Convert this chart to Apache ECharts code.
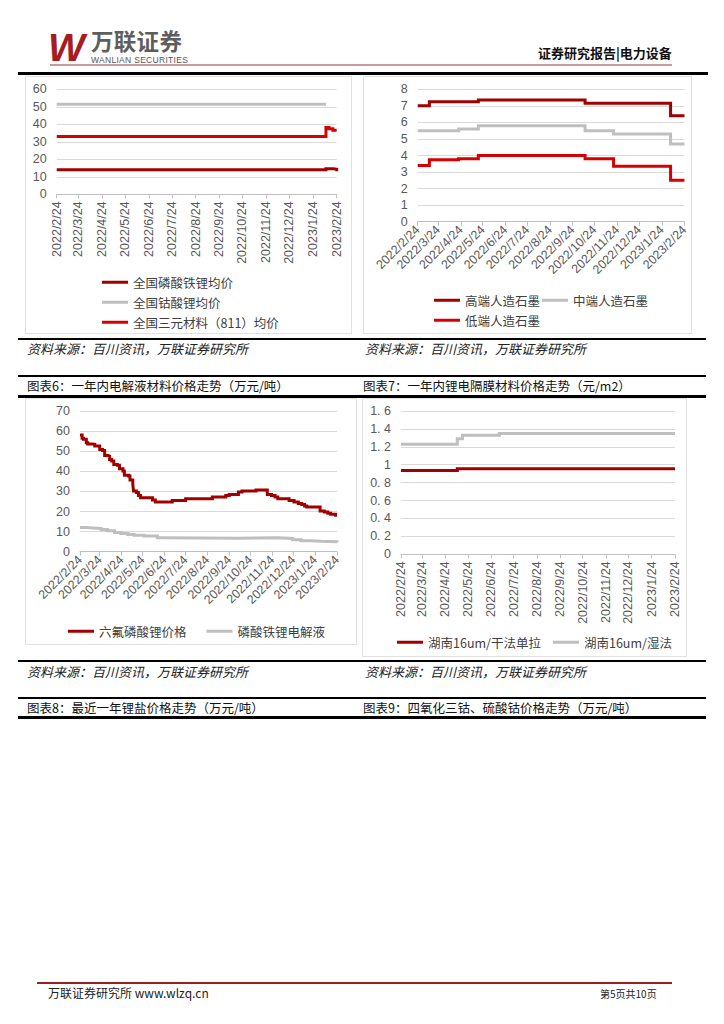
<!DOCTYPE html>
<html><head><meta charset="utf-8">
<script src="https://cdn.jsdelivr.net/npm/echarts@6/dist/echarts.min.js"></script>
<style>
body{margin:0;width:724px;height:1024px;position:relative;background:#fff;font-family:"Noto Sans CJK SC",sans-serif;overflow:hidden}
.abs{position:absolute;white-space:nowrap}
.hl{position:absolute;background:#000}
.panel{position:absolute;border:1px solid #e2e2e2;box-sizing:border-box}
.src{position:absolute;font-size:13px;font-style:italic;color:#222;line-height:16px;white-space:nowrap}
.ttl{position:absolute;font-size:12.5px;color:#111;line-height:16px;white-space:nowrap}
</style></head>
<body>
<div class="abs" style="left:48px;top:26px;font:italic bold 39px 'Liberation Sans';color:#a51d22;letter-spacing:-2px">W</div>
<div class="abs" style="left:91px;top:24px;font-size:22.5px;font-weight:bold;color:#5e5e5e;line-height:32px;letter-spacing:0.3px">万联证券</div>
<div class="abs" style="left:91px;top:56px;font:8.5px 'Liberation Sans';color:#555;letter-spacing:0.3px;line-height:8px">WANLIAN SECURITIES</div>
<div class="abs" style="left:538px;top:45px;font-size:13px;font-weight:bold;color:#111;line-height:16px">证券研究报告|电力设备</div>
<div class="hl" style="left:50px;top:64px;width:622px;height:2px;background:#c99c9c"></div>
<div class="hl" style="left:18px;top:72px;width:690px;height:3px"></div>

<div class="panel" id="c1" style="left:25px;top:76px;width:327px;height:258px"></div>
<div class="panel" id="c2" style="left:363px;top:76px;width:329px;height:258px"></div>

<div class="hl" style="left:18px;top:338px;width:688px;height:1.5px"></div>
<div class="src" style="left:27px;top:341px">资料来源：百川资讯，万联证券研究所</div>
<div class="src" style="left:365px;top:341px">资料来源：百川资讯，万联证券研究所</div>
<div class="hl" style="left:18px;top:375px;width:688px;height:1.5px"></div>
<div class="ttl" style="left:27px;top:378px">图表6：一年内电解液材料价格走势（万元/吨）</div>
<div class="ttl" style="left:363px;top:378px">图表7：一年内锂电隔膜材料价格走势（元/m2）</div>
<div class="hl" style="left:18px;top:395px;width:688px;height:2.5px"></div>

<div class="panel" id="c3" style="left:25px;top:398px;width:332px;height:247px"></div>
<div class="panel" id="c4" style="left:362px;top:398px;width:325px;height:259px"></div>

<div class="hl" style="left:18px;top:660px;width:688px;height:1.5px"></div>
<div class="src" style="left:27px;top:664px">资料来源：百川资讯，万联证券研究所</div>
<div class="src" style="left:365px;top:664px">资料来源：百川资讯，万联证券研究所</div>
<div class="hl" style="left:18px;top:697px;width:688px;height:1.5px"></div>
<div class="ttl" style="left:27px;top:700px">图表8：最近一年锂盐价格走势（万元/吨）</div>
<div class="ttl" style="left:363px;top:700px">图表9：四氧化三钴、硫酸钴价格走势（万元/吨）</div>
<div class="hl" style="left:18px;top:716px;width:688px;height:2.5px"></div>

<div class="hl" style="left:37px;top:982px;width:635px;height:2px;background:#9c1f1f"></div>
<div class="abs" style="left:48px;top:985px;font-size:12px;color:#222;line-height:16px">万联证券研究所 www.wlzq.cn</div>
<div class="abs" style="left:600px;top:987px;font-size:10px;color:#222;line-height:13px">第5页共10页</div>

<script>
// ---- axis categories / tick labels ----
const tickLabels = ['2022/2/24','2022/3/24','2022/4/24','2022/5/24','2022/6/24','2022/7/24','2022/8/24','2022/9/24','2022/10/24','2022/11/24','2022/12/24','2023/1/24','2023/2/24'];
const dates = [];
for (let i = 0; i <= 365; i++) { const d = new Date(2022, 1, 24 + i); dates.push(d.getFullYear() + '/' + (d.getMonth() + 1) + '/' + d.getDate()); }
const tickSet = new Set(tickLabels);

// ---- chart 1: cathode materials ----
const lfpAvg = [['2022/2/24',14],['2023/2/10',14.6],['2023/2/20',14.3],['2023/2/24',13.2]];
const lcoAvg = [['2022/2/24',51.5],['2023/2/10',51.5]];
const ncm811Avg = [['2022/2/24',33],['2023/2/10',38.2],['2023/2/14',37.5],['2023/2/19',36.6],['2023/2/24',36.6]];

// ---- chart 2: artificial graphite ----
const graphHigh = [['2022/2/24',7.0],['2022/3/12',7.25],['2022/5/18',7.35],['2022/10/11',7.15],['2023/2/5',6.4],['2023/2/24',6.4]];
const graphMid = [['2022/2/24',5.5],['2022/4/21',5.6],['2022/5/18',5.8],['2022/10/11',5.5],['2022/11/19',5.3],['2023/2/5',4.7],['2023/2/24',4.7]];
const graphLow = [['2022/2/24',3.4],['2022/3/12',3.75],['2022/4/21',3.8],['2022/5/18',4.0],['2022/10/11',3.8],['2022/11/19',3.35],['2023/2/5',2.5],['2023/2/24',2.5]];

// ---- chart 3: electrolyte ----
const lipf6 = [['2022/2/24',58.0],['2022/2/27',56.4],['2022/3/1',55.9],['2022/3/5',54.2],['2022/3/7',53.6],['2022/3/14',53.4],['2022/3/17',52.6],['2022/3/24',50.9],['2022/3/28',50.4],['2022/3/31',47.9],['2022/4/5',47.6],['2022/4/7',45.9],['2022/4/10',45.1],['2022/4/13',43.4],['2022/4/18',43.0],['2022/4/21',41.3],['2022/4/26',40.1],['2022/4/28',38.0],['2022/5/4',37.6],['2022/5/6',35.7],['2022/5/10',33.5],['2022/5/11',30.2],['2022/5/15',29.4],['2022/5/18',28.0],['2022/5/21',26.9],['2022/6/7',25.7],['2022/6/11',24.7],['2022/7/5',25.5],['2022/7/24',26.4],['2022/8/31',27.2],['2022/9/19',28.0],['2022/9/24',28.4],['2022/10/7',29.7],['2022/10/12',30.2],['2022/11/1',30.7],['2022/11/17',28.5],['2022/11/23',28.0],['2022/11/28',27.2],['2022/12/2',26.4],['2022/12/18',25.5],['2022/12/25',24.7],['2022/12/31',24.0],['2023/1/5',23.5],['2023/1/9',22.7],['2023/1/12',22.2],['2023/1/31',20.2],['2023/2/6',19.7],['2023/2/11',19.1],['2023/2/15',18.6],['2023/2/22',18.1],['2023/2/24',17.8]];
const lfpElectrolyte = [['2022/2/24',12.0],['2022/3/5',11.8],['2022/3/14',11.6],['2022/3/26',11.0],['2022/4/4',10.4],['2022/4/14',9.6],['2022/4/23',9.1],['2022/5/3',8.6],['2022/5/12',8.2],['2022/5/26',7.8],['2022/6/14',7.0],['2022/6/19',6.7],['2022/10/6',6.9],['2022/12/2',6.6],['2022/12/23',5.9],['2023/1/4',5.5],['2023/1/18',5.2],['2023/2/1',5.0],['2023/2/24',4.6]];

// ---- chart 4: separator ----
const dryFilm = [['2022/2/24',0.935],['2022/5/10',0.955],['2023/2/24',0.955]];
const wetFilm = [['2022/2/24',1.23],['2022/5/10',1.29],['2022/5/17',1.33],['2022/7/5',1.35],['2023/2/24',1.35]];

const DARK = '#a00000', RED = '#d60000', GREY = '#bfbfbf';
const FONT = "'Liberation Sans', 'Noto Sans CJK SC', sans-serif";

function xAxisCfg(rotate, margin) {
  return {type:'category', data:dates, boundaryGap:false,
    axisLine:{lineStyle:{color:'#bfbfbf'}},
    axisTick:{show:true, interval:(i,v)=>tickSet.has(v), length:4, lineStyle:{color:'#bfbfbf'}},
    axisLabel:{interval:(i,v)=>tickSet.has(v), rotate:rotate, color:'#595959', fontSize:12.5, margin:margin, fontFamily:FONT},
    splitLine:{show:false}};
}
function yAxisCfg(max, interval, fmt) {
  return {type:'value', min:0, max:max, interval:interval,
    axisLine:{show:false}, axisTick:{show:false},
    axisLabel:{color:'#595959', fontSize:12.5, margin:10, fontFamily:FONT, formatter:fmt},
    splitLine:{lineStyle:{color:'#d9d9d9'}}};
}
function toIdx(arr) { return arr.map(p => [dates.indexOf(p[0]), p[1]]); }
function ser(name, data, color, width) {
  return {name:name, type:'line', data:toIdx(data), step:'end', showSymbol:false, symbol:'none',
    lineStyle:{color:color, width:width||3, join:'miter', cap:'butt'}, itemStyle:{color:color}};
}
const legendText = {color:'#404040', fontSize:12.5, fontFamily:"'Noto Sans CJK SC', sans-serif"};
function legendCfg(names, left, top, gap, orient) {
  return {data:names, left:left, top:top, orient:orient||'horizontal', icon:'rect', itemWidth:26, itemHeight:3,
    itemGap:gap, textStyle:legendText, padding:0, selectedMode:false};
}
function draw(id, option) {
  const chart = echarts.init(document.getElementById(id), null, {renderer:'svg'});
  chart.setOption(option);
  return chart;
}

// chart 1
draw('c1', {
  animation:false,
  grid:{left:30.7, top:12.3, width:280, height:105},
  xAxis:xAxisCfg(90, 7), yAxis:yAxisCfg(60, 10),
  legend:[legendCfg(['全国磷酸铁锂均价'], 76, 199, 0), legendCfg(['全国钴酸锂均价'], 76, 219, 0), legendCfg(['全国三元材料（811）均价'], 76, 239, 0)],
  series:[ser('全国磷酸铁锂均价', lfpAvg, DARK), ser('全国钴酸锂均价', lcoAvg, GREY), ser('全国三元材料（811）均价', ncm811Avg, RED)]
});
// chart 2
draw('c2', {
  animation:false,
  grid:{left:53.7, top:12.3, width:272.3, height:132.4},
  xAxis:xAxisCfg(45, 6), yAxis:yAxisCfg(8, 1),
  legend:[legendCfg(['高端人造石墨','中端人造石墨'], 70, 217, 2), legendCfg(['低端人造石墨'], 70, 237, 2)],
  series:[ser('高端人造石墨', graphHigh, DARK), ser('中端人造石墨', graphMid, GREY), ser('低端人造石墨', graphLow, RED)]
});
// chart 3
draw('c3', {
  animation:false,
  grid:{left:54, top:12, width:257, height:140.7},
  xAxis:xAxisCfg(45, 6), yAxis:yAxisCfg(70, 10),
  legend:legendCfg(['六氟磷酸锂价格','磷酸铁锂电解液'], 42, 226, 20),
  series:[ser('六氟磷酸锂价格', lipf6, DARK), ser('磷酸铁锂电解液', lfpElectrolyte, GREY)]
});
// chart 4
draw('c4', {
  animation:false,
  grid:{left:38, top:12, width:274, height:143.3},
  xAxis:xAxisCfg(90, 7),
  yAxis:yAxisCfg(1.6, 0.2, v => { const s = (Math.round(v*10)/10).toString(); return s.replace('.', '. '); }),
  legend:legendCfg(['湖南16um/干法单拉','湖南16um/湿法'], 34, 237, 12),
  series:[ser('湖南16um/干法单拉', dryFilm, DARK), ser('湖南16um/湿法', wetFilm, GREY)]
});
</script>
</body></html>
